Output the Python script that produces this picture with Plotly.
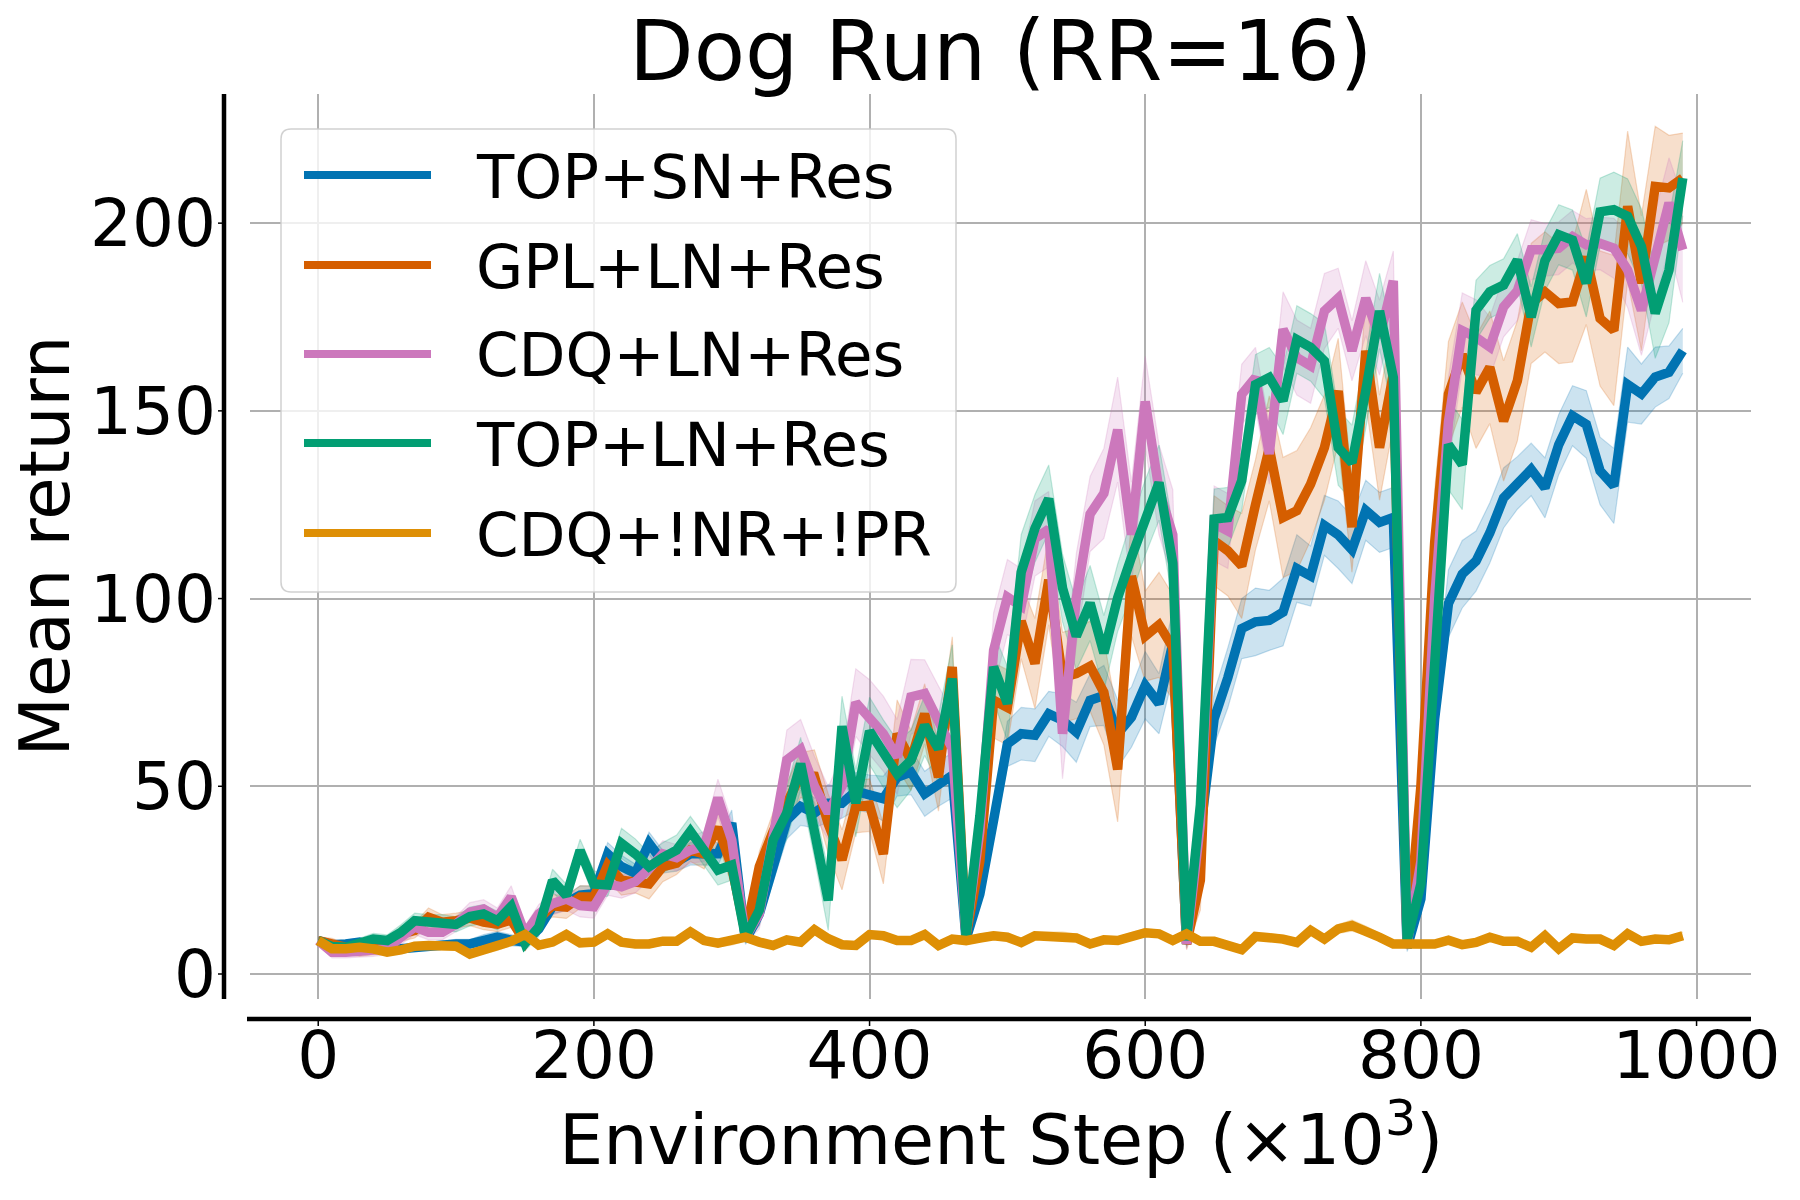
import plotly.graph_objects as go

steps = list(range(0, 1000, 10))

top_sn_res = [8.9, 7.8, 8, 8.5, 7.4, 6.2, 6.7, 7.1, 7.6, 7.8,
              8, 8, 9, 9.8, 9, 8.5, 12, 18, 19, 21,
              21.4, 32, 28.6, 26.8, 34.8, 29.9, 29.9, 32, 32, 32,
              40.2, 8.9, 16, 28.6, 41, 44.6, 42.9, 45.5, 45.5, 48.7,
              48, 46.7, 52.4, 53.8, 48, 50.7, 52.9, 9.3, 21.3, 41,
              61.3, 64, 63.6, 69.3, 67.6, 64.4, 72.9, 74.2, 64, 68.4,
              76.9, 72, 88, 8, 40, 68, 79, 92, 93.8, 94.2,
              96.4, 108, 106, 119.5, 117, 113, 123.5, 120.3, 121.6, 7,
              20, 68, 98.7, 106.5, 110, 117.5, 126.8, 130.8, 134.4, 129.5,
              141, 148.7, 146.4, 134, 130, 157, 154.5, 159, 160.3, 166]

gpl_ln_res = [8.9, 8, 6.7, 6.2, 6.7, 7.1, 10.7, 11.6, 15.1, 13.8,
              14.2, 14.9, 13.8, 13.3, 14.4, 8.5, 14.7, 18.2, 17.8, 20.5,
              20.5, 29, 25, 24.6, 24, 28.6, 29.5, 33, 32, 39,
              28.6, 10.7, 28.6, 38, 45, 53, 52.7, 40, 30.4, 44.6,
              45, 32, 64, 56.9, 69.3, 52.4, 81.8, 10.2, 30, 72.9,
              71, 94, 82.7, 105, 79, 80, 82, 75, 54.5, 106,
              90, 93, 87, 8, 25, 115.4, 112.7, 108.7, 125, 140,
              121.6, 123.4, 130.5, 140.2, 155.3, 119, 166, 140.2, 159.8, 8,
              50, 115, 154.5, 165, 155, 161.6, 147.3, 158, 178.6, 181.7,
              178.6, 179, 191, 174.6, 171.4, 204.5, 184, 209.8, 209.4, 212]

cdq_ln_res = [8.9, 5.8, 5.8, 6, 6.2, 6.7, 9.8, 12.5, 11.1, 11.1,
              13.3, 16.5, 17.3, 15.1, 20.5, 10.7, 16, 18.7, 20, 18.2,
              17.9, 24, 23.2, 24.6, 28, 32, 31, 33, 34, 46.9,
              35.7, 9.8, 16, 35, 57, 59.8, 50, 42.9, 50, 72.3,
              68.4, 64, 57.8, 73.8, 74.7, 66.7, 60, 10.7, 38, 86.2,
              100.4, 98, 116, 118.5, 64, 100, 122.5, 128, 145, 117,
              152.5, 129, 117, 8, 40, 120, 118, 154.4, 158.9, 138.5,
              171.7, 164.2, 162, 176.6, 180, 166, 180, 169.5, 184.6, 8,
              30, 100, 147, 171.4, 169.6, 167, 177.7, 182, 192.9, 192.9,
              193.3, 196.4, 194.2, 194.6, 193.3, 187.5, 176.8, 191, 205.4, 192.9]

top_ln_res = [8.9, 7.3, 7.1, 8, 9.3, 8.9, 11.1, 14.2, 13.8, 13.8,
              13.2, 15.3, 16, 14.2, 18, 8.2, 12.5, 24.9, 20.9, 32.9,
              24, 23.7, 34.8, 32, 28.6, 31, 33, 38, 33, 27.7,
              29, 9.8, 17, 35.7, 42.9, 56, 38, 19.6, 66, 45.5,
              64.7, 58.7, 53.3, 56.9, 66.2, 60, 78.7, 10.2, 42, 81.8,
              72, 107, 118.7, 126.6, 102.8, 90, 98.8, 85.5, 100.2, 111,
              121.6, 130.9, 109.4, 9, 45, 121.2, 121.6, 131.4, 157, 158.9,
              152.7, 169, 166.9, 163.3, 140.2, 136.2, 155.3, 176.6, 158.9, 8.9,
              24, 84, 141, 135.7, 176.8, 181.7, 183.5, 190.2, 175, 190,
              196.9, 195.5, 184, 203, 203.6, 201.8, 193.8, 176, 187.5, 212]

cdq_nr_pr = [8.9, 6.7, 6.7, 7.1, 6.7, 5.8, 6.4, 7.4, 7.6, 7.6,
             7.4, 5.3, 6.4, 7.3, 8.7, 10.5, 7.7, 8.5, 10.5, 8.3,
             8.5, 10.7, 8.5, 8, 8, 8.75, 8.75, 11.2, 8.9, 8.2,
             8.7, 9.8, 8.5, 7.6, 9.1, 8.5, 11.8, 9.4, 7.8, 7.6,
             10.5, 10.2, 8.9, 8.9, 10.5, 7.6, 9.3, 8.9, 9.6, 10.2,
             9.8, 8.4, 10.2, 10.2, 10.2, 9.6, 8, 9.1, 8.9, 10,
             11, 10.7, 8.9, 10.7, 8.7, 8.7, 7.6, 6.5, 10, 9.8,
             9.3, 8.4, 11.6, 9.3, 12, 12.9, 11.6, 9.8, 8, 8,
             7.8, 8, 9, 7.8, 8.4, 9.8, 8.7, 8.7, 7.1, 10.2,
             6.7, 9.6, 9.3, 9.3, 7.6, 10.7, 8.7, 9.3, 9.1, 10.2]

# half-width of the shaded band around each mean curve
top_sn_res_spread = [0.8, 1, 1, 1, 1, 1, 1, 1, 1, 1.2, 1.2, 1.2, 1.5, 1.5, 1.5, 1.2,
                     1.5, 2, 2, 2.5, 2, 3, 3, 2.5, 3, 3, 2.5, 3, 3, 3, 3.5,
                     1,
                     3, 4, 5, 5, 4, 5, 4, 5, 5, 6, 5, 6, 6, 6, 6,
                     1,
                     3, 5, 6, 7, 7, 6, 7, 8, 7, 8, 9, 8, 9, 8, 9,
                     1,
                     5, 7, 8, 8, 9, 8, 9, 9, 8, 8, 9, 9, 8, 8, 8,
                     1,
                     4, 6, 9, 9, 8, 8, 8, 7, 7, 8, 8, 8, 9, 9, 10, 10, 8, 8, 7, 6]
gpl_ln_res_spread = [1, 1.5, 1.5, 1.5, 1.5, 1.5, 2, 2, 2.5, 2, 2, 2, 2, 2, 2, 1.5,
                     2, 3, 3, 3, 3, 4, 4, 3, 4, 4, 3, 3, 4, 4, 5,
                     1.5,
                     4, 5, 6, 6, 7, 8, 8, 7, 7, 8, 9, 8, 8, 9, 8,
                     1.5,
                     6, 10, 10, 10, 12, 12, 12, 12, 12, 14, 14, 16, 12, 14, 14,
                     1.5,
                     8, 12, 12, 14, 12, 14, 16, 16, 15, 14, 14, 12, 14, 14, 14,
                     1.5,
                     10, 14, 14, 14, 15, 15, 16, 16, 16, 16, 16, 16, 18, 18, 20, 20, 18, 16, 14, 12]
cdq_ln_res_spread = [1, 1.5, 1.5, 1.5, 1.5, 1.5, 2, 2, 2, 2, 2, 2.5, 2.5, 2.5, 3, 2,
                     2.5, 3, 3, 3, 3, 3, 3, 3, 3, 3.5, 3.5, 3.5, 4, 5, 5,
                     1.5,
                     4, 6, 8, 8, 8, 7, 8, 9, 10, 10, 10, 10, 9, 10, 10,
                     1.5,
                     6, 10, 10, 10, 10, 10, 12, 12, 10, 12, 14, 14, 12, 12, 12,
                     1.5,
                     8, 10, 10, 8, 8, 8, 10, 10, 10, 10, 8, 8, 10, 10, 8,
                     1.5,
                     8, 10, 12, 10, 10, 8, 8, 8, 8, 7, 7, 7, 7, 7, 8, 10, 12, 12, 12, 14]
top_ln_res_spread = [1, 1.5, 1.5, 1.5, 1.5, 1.5, 2, 2, 2, 2, 2, 2.5, 2.5, 2.5, 3, 2,
                     2.5, 3, 3, 3, 3.5, 3, 4, 4, 3.5, 4, 4, 4, 4, 4, 4,
                     1.5,
                     4, 6, 7, 7, 7, 8, 8, 9, 9, 9, 9, 8, 8, 9, 9,
                     1.5,
                     6, 9, 10, 10, 9, 9, 9, 9, 10, 10, 9, 10, 10, 10, 10,
                     1.5,
                     8, 8, 8, 8, 8, 8, 9, 9, 9, 10, 10, 10, 10, 10, 10,
                     1.5,
                     8, 10, 12, 12, 8, 7, 7, 7, 8, 8, 8, 8, 9, 9, 10, 10, 10, 12, 14, 10]
cdq_nr_pr_spread = [0.8, 0.8, 0.8, 0.8, 0.8, 0.8, 0.8, 0.9, 0.9, 0.9,
                    0.9, 0.9, 0.9, 1, 1, 1, 1, 1, 1, 1,
                    1, 1, 1, 1, 1, 1, 1, 1, 1, 1,
                    1, 1, 1, 1, 1, 1, 1.2, 1, 1, 1,
                    1, 1, 1, 1, 1, 1, 1, 1, 1, 1,
                    1, 1, 1, 1, 1, 1, 1, 1, 1, 1,
                    1, 1, 1, 1, 1, 1, 1, 1, 1, 1,
                    1, 1, 1, 1, 1.2, 1.5, 1.2, 1, 1, 1,
                    1, 1, 1, 1, 1, 1, 1, 1, 1, 1,
                    1, 1, 1, 1, 1, 1, 1, 1, 1, 1]

labels = ["TOP+SN+Res", "GPL+LN+Res", "CDQ+LN+Res", "TOP+LN+Res", "CDQ+!NR+!PR"]
colors = ["#0173B2", "#D55E00", "#CC78BC", "#029E73", "#DE8F05"]
means = [top_sn_res, gpl_ln_res, cdq_ln_res, top_ln_res, cdq_nr_pr]
spreads = [top_sn_res_spread, gpl_ln_res_spread, cdq_ln_res_spread,
           top_ln_res_spread, cdq_nr_pr_spread]

x_ticks = [0, 200, 400, 600, 800, 1000]
y_ticks = [0, 50, 100, 150, 200]

FONT = "DejaVu Sans"
W, H = 1800, 1200
OFF = 8                      # page body margin of the browser
REF_L, REF_T = 250, 94       # plot-area corner in reference pixels
PW, PH = 1501, 905
L, T = REF_L - OFF, REF_T - OFF
R, B = W - L - PW, H - T - PH


def px(xr):
    return (xr - REF_L) / PW


def py(yr):
    return (REF_T + PH - yr) / PH


def rgba(hexc, a):
    h = hexc.lstrip("#")
    return "rgba(%d,%d,%d,%.3f)" % (int(h[0:2], 16), int(h[2:4], 16), int(h[4:6], 16), a)


fig = go.Figure()

# shaded bands (drawn below all lines, as in matplotlib)
for lab, col, m, s in zip(labels, colors, means, spreads):
    upper = [a + b for a, b in zip(m, s)]
    lower = [a - b for a, b in zip(m, s)]
    fig.add_trace(go.Scatter(x=steps, y=upper, mode="lines",
                             line=dict(color=rgba(col, 0.22), width=1.2),
                             showlegend=False, hoverinfo="skip"))
    fig.add_trace(go.Scatter(x=steps, y=lower, mode="lines", fill="tonexty",
                             fillcolor=rgba(col, 0.2),
                             line=dict(color=rgba(col, 0.22), width=1.2),
                             showlegend=False, hoverinfo="skip"))

for lab, col, m in zip(labels, colors, means):
    fig.add_trace(go.Scatter(x=steps, y=m, mode="lines", name=lab,
                             line=dict(color=col, width=9.5),
                             showlegend=False))

grid_col = "#b0b0b0"
fig.update_xaxes(range=[-49.5, 1039.5], tickvals=x_ticks,
                 ticktext=[str(v) for v in x_ticks],
                 showgrid=True, gridcolor=grid_col, gridwidth=1.5,
                 zeroline=False, showline=False, ticks="",
                 ticklabelstandoff=12,
                 tickfont=dict(family=FONT, size=66, color="black"))
fig.update_yaxes(range=[-6.66, 234.4], tickvals=y_ticks,
                 ticktext=[str(v) for v in y_ticks],
                 showgrid=True, gridcolor=grid_col, gridwidth=1.5,
                 zeroline=False, showline=False, ticks="",
                 ticklabelstandoff=33,
                 tickfont=dict(family=FONT, size=66, color="black"))

shapes = []
# offset spines
sx = px(224)
shapes.append(dict(type="line", xref="paper", yref="paper", x0=sx, x1=sx,
                   y0=0, y1=1, line=dict(color="black", width=4.5), layer="above"))
sy = py(1019)
shapes.append(dict(type="line", xref="paper", yref="paper", x0=px(247), x1=1,
                   y0=sy, y1=sy, line=dict(color="black", width=4.5), layer="above"))
# small tick marks on spines
for v in y_ticks:
    shapes.append(dict(type="line", xref="paper", yref="y", x0=px(218), x1=px(224),
                       y0=v, y1=v, line=dict(color="black", width=1.5)))
for v in x_ticks:
    shapes.append(dict(type="line", xref="x", yref="paper", x0=v, x1=v,
                       y0=py(1019), y1=py(1026), line=dict(color="black", width=1.5)))

# legend frame (rounded)
lx0, lx1, ly0, ly1 = 281, 956, 129, 592
r = 10
path = ("M {a},{b} L {c},{b} Q {d},{b} {d},{e} L {d},{f} Q {d},{g} {c},{g} "
        "L {a},{g} Q {h},{g} {h},{f} L {h},{e} Q {h},{b} {a},{b} Z").format(
    a=px(lx0 + r), b=py(ly0), c=px(lx1 - r), d=px(lx1), e=py(ly0 + r),
    f=py(ly1 - r), g=py(ly1), h=px(lx0))
shapes.append(dict(type="path", xref="paper", yref="paper", path=path,
                   fillcolor="rgba(255,255,255,0.8)",
                   line=dict(color="rgba(204,204,204,0.9)", width=1.5), layer="above"))

annotations = []
entry_y = [175, 265, 354, 443, 533]
for lab, col, ey in zip(labels, colors, entry_y):
    shapes.append(dict(type="line", xref="paper", yref="paper", x0=px(304), x1=px(431),
                       y0=py(ey), y1=py(ey), line=dict(color=col, width=8), layer="above"))
    annotations.append(dict(text=lab, xref="paper", yref="paper", x=px(474), y=py(ey + 1),
                            xanchor="left", yanchor="middle", showarrow=False,
                            font=dict(family=FONT, size=61, color="black")))

annotations.append(dict(text="Dog Run (RR=16)", xref="paper", yref="paper",
                        x=0.5, y=py(51), xanchor="center", yanchor="middle",
                        showarrow=False, font=dict(family=FONT, size=84, color="black")))
annotations.append(dict(text="Environment Step (×10<sup>3</sup>)", xref="paper", yref="paper",
                        x=0.5, y=py(1135), xanchor="center", yanchor="middle",
                        showarrow=False, font=dict(family=FONT, size=70, color="black")))
annotations.append(dict(text="Mean return", xref="paper", yref="paper",
                        x=px(44), y=0.5, xanchor="center", yanchor="middle", textangle=-90,
                        showarrow=False, font=dict(family=FONT, size=69, color="black")))

fig.update_layout(width=W, height=H, margin=dict(l=L, r=R, t=T, b=B),
                  plot_bgcolor="white", paper_bgcolor="white",
                  shapes=shapes, annotations=annotations, showlegend=False,
                  font=dict(family=FONT, color="black"))

fig.write_html("out.html")
